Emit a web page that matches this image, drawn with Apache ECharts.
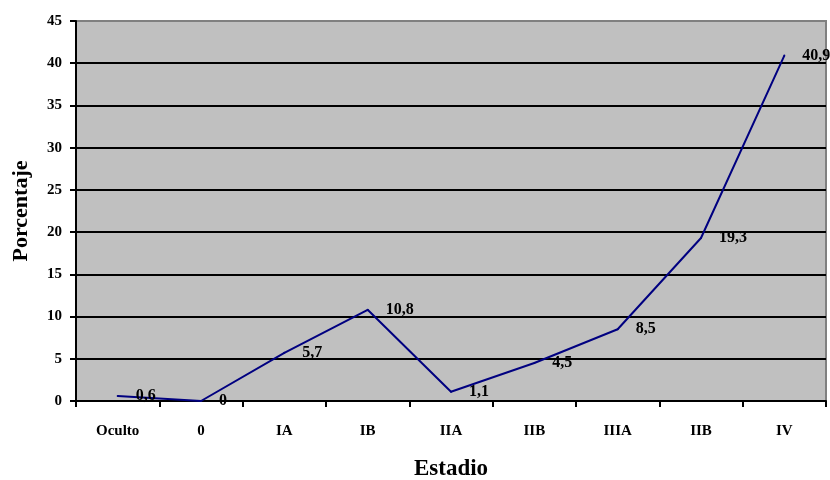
<!DOCTYPE html>
<html>
<head>
<meta charset="utf-8">
<script src="https://cdn.jsdelivr.net/npm/echarts@6/dist/echarts.min.js"></script>
<style>html,body{margin:0;padding:0;background:#fff}#c{width:830px;height:480px}</style>
</head>
<body>
<div id="c"></div>
<script>
var categories = ["Oculto", "0", "IA", "IB", "IIA", "IIB", "IIIA", "IIB", "IV"];
var values = [0.6, 0, 5.7, 10.8, 1.1, 4.5, 8.5, 19.3, 40.9];
var yTicks = { min: 0, max: 45, interval: 5 };

var FONT = '"Liberation Serif", "Times New Roman", serif';
var chart = echarts.init(document.getElementById('c'));
chart.setOption({
  backgroundColor: '#ffffff',
  animation: false,
  grid: { left: 76, right: 4, top: 21, bottom: 79, containLabel: false, outerBoundsMode: 'none', show: true, backgroundColor: '#C0C0C0', borderColor: '#808080', borderWidth: 2 },
  xAxis: {
    type: 'category',
    data: categories,
    boundaryGap: true,
    name: 'Estadio',
    nameLocation: 'middle',
    nameGap: 57,
    nameTextStyle: { fontFamily: FONT, fontWeight: 'bold', fontSize: 23, color: '#000' },
    axisLine: { lineStyle: { color: '#000', width: 2 } },
    axisTick: { show: true, length: 6, lineStyle: { color: '#000', width: 2 } },
    axisLabel: { margin: 23, fontFamily: FONT, fontWeight: 'bold', fontSize: 15, color: '#000' }
  },
  yAxis: {
    type: 'value',
    min: yTicks.min, max: yTicks.max, interval: yTicks.interval,
    name: 'Porcentaje',
    nameLocation: 'middle',
    nameGap: 44,
    nameTextStyle: { fontFamily: FONT, fontWeight: 'bold', fontSize: 22, color: '#000' },
    axisLine: { show: true, lineStyle: { color: '#000', width: 2 } },
    axisTick: { show: true, length: 6, lineStyle: { color: '#000', width: 2 } },
    axisLabel: { margin: 14, fontFamily: FONT, fontWeight: 'bold', fontSize: 15, color: '#000' },
    splitLine: { show: true, showMaxLine: false, lineStyle: { color: '#000', width: 2 } }
  },
  series: [{
    type: 'line',
    data: values,
    symbol: 'circle',
    symbolSize: 2,
    showSymbol: true,
    showAllSymbol: true,
    itemStyle: { color: '#000080' },
    lineStyle: { color: '#000080', width: 2 },
    labelLayout: { hideOverlap: false },
    label: {
      show: true,
      position: 'right',
      distance: 17,
      offset: [0, -2],
      fontFamily: FONT, fontWeight: 'bold', fontSize: 16, color: '#000',
      formatter: function (p) { return String(p.value).replace('.', ','); }
    }
  }]
});
</script>
</body>
</html>
